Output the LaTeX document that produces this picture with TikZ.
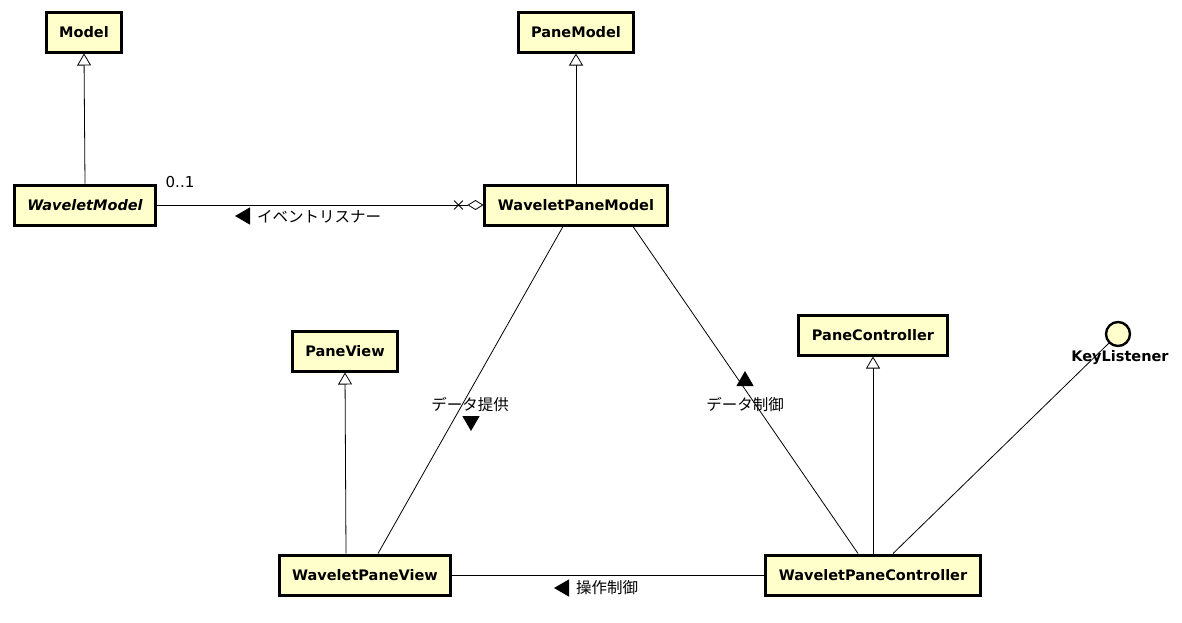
\documentclass[tikz,border=0pt]{standalone}
\usepackage{fontspec}
\setmainfont{DejaVu Sans}
\newfontfamily\jp{Noto Sans CJK JP}
\usetikzlibrary{arrows.meta,shapes.misc,shapes.geometric}
\definecolor{umlfill}{HTML}{FFFFCC}
\tikzset{
  cls/.style={draw, line width=3pt, fill=umlfill, inner xsep=13pt,
    minimum height=40pt, font=\fontsize{14.5}{17}\selectfont\bfseries},
  gen/.style={-{Triangle[open, length=12pt, width=14pt]}, line width=0.8pt},
  assoc/.style={line width=0.8pt},
  lbl/.style={font=\fontsize{15.5}{18}\selectfont\jp, inner sep=1pt},
  dir/.style={isosceles triangle, fill, inner sep=0pt, minimum height=15pt,
    minimum width=14pt, isosceles triangle apex angle=60}
}
\begin{document}
\begin{tikzpicture}[x=1pt, y=-1pt]
    \useasboundingbox (0,0) rectangle (1182,622);
    \node[cls] (model) at (84,32) {Model};
    \node[cls] (panemodel) at (576,32) {PaneModel};
    \node[cls] (wmodel) at (85,205) {\itshape WaveletModel};
    \node[cls] (wpmodel) at (576,205) {WaveletPaneModel};
    \node[cls] (paneview) at (345,351) {PaneView};
    \node[cls] (panectrl) at (873,335) {PaneController};
    \node[cls] (wpview) at (365,575) {WaveletPaneView};
    \node[cls] (wpctrl) at (873,575) {WaveletPaneController};
    \node[circle, draw, line width=2.4pt, fill=umlfill, minimum size=24pt, inner sep=0pt] (keylistener) at (1118,334) {};
    \node[font=\fontsize{14.5}{17}\selectfont\bfseries, inner sep=0pt] (keylbl) at (1120,358) {KeyListener};
    % generalizations
    \draw[gen] (wmodel.north) -- (model.south);
    \draw[gen] (wpmodel.north) -- (panemodel.south);
    \draw[gen] ([xshift=-19pt]wpview.north) -- (paneview.south);
    \draw[gen] (wpctrl.north) -- (panectrl.south);
    % associations
    \draw[assoc, -{Diamond[open, length=16pt, width=10pt]}] (wmodel.east) -- (wpmodel.west);
    \node[cross out, draw, line width=0.8pt, minimum size=8pt, inner sep=0pt] (nav) at ([xshift=-25pt]wpmodel.west) {};
    \node[font=\fontsize{15}{18}\selectfont, inner sep=0pt] (mult) at (180,182) {0..1};
    \node[dir, shape border rotate=180] (evtarr) at (245,216) {};
    \node[lbl, anchor=west] (evt) at (256,217) {イベントリスナー};
    \draw[assoc] ([xshift=-13pt]wpmodel.south) -- ([xshift=13pt]wpview.north);
    \node[lbl] (dprov) at (470,405) {データ提供};
    \node[dir, shape border rotate=270] (dprovarr) at (471,421) {};
    \draw[assoc] ([xshift=57pt]wpmodel.south) -- ([xshift=-15pt]wpctrl.north);
    \node[lbl] (dctrl) at (745,405) {データ制御};
    \node[dir, shape border rotate=90] (dctrlarr) at (745,381) {};
    \draw[assoc] (keylistener.225) -- ([xshift=20pt]wpctrl.north);
    \draw[assoc] (wpview.east) -- (wpctrl.west);
    \node[dir, shape border rotate=180] (oparr) at (564,588) {};
    \node[lbl, anchor=west] (opctrl) at (575,588) {操作制御};
\end{tikzpicture}
\end{document}
